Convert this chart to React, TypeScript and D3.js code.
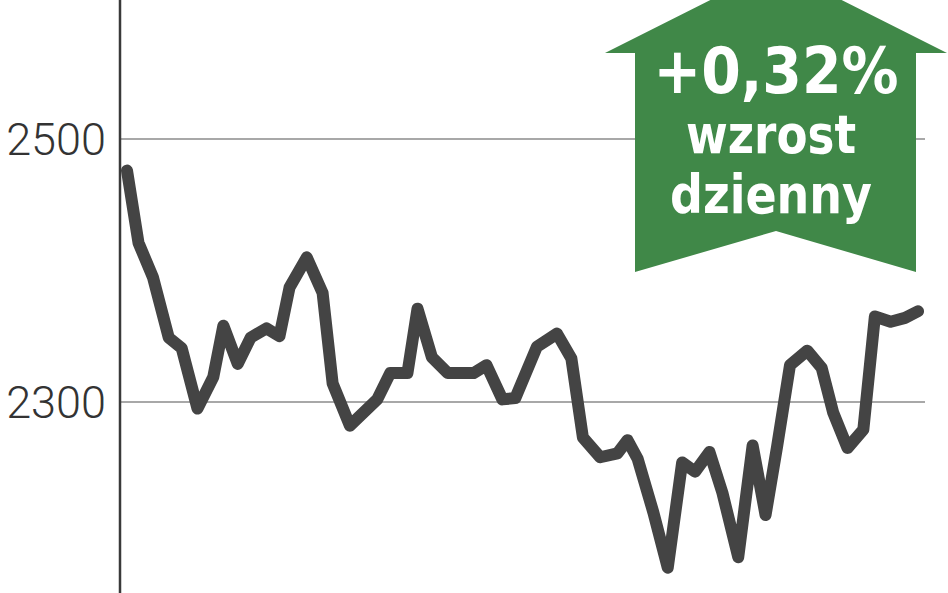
import { useEffect, useRef } from "react";
import * as d3 from "d3";

// session position (fractional trading-day index) and index level
const sessions = [
  0, 0.8, 1.8, 2.9, 3.8, 4.9, 6.0, 6.7, 7.7, 8.6, 9.7, 10.6, 11.3, 12.5, 13.6,
  14.3, 15.5, 17.4, 18.3, 19.5, 20.2, 21.2, 22.3, 24.1, 25.0, 26.1, 27.0, 28.5,
  29.9, 30.9, 31.7, 32.9, 34.1, 34.8, 35.5, 36.6, 37.6, 38.6, 39.5, 40.5, 41.4,
  42.5, 43.5, 44.4, 45.2, 46.1, 47.3, 48.3, 49.1, 50.1, 51.2, 52.0, 53.1, 54.1,
  55.0,
];
const values = [
  2476, 2421, 2395, 2349, 2341, 2295, 2319, 2358, 2329, 2349, 2356, 2350, 2387,
  2410, 2383, 2314, 2282, 2302, 2322, 2322, 2371, 2334, 2322, 2322, 2328, 2302,
  2303, 2342, 2352, 2333, 2273, 2258, 2261, 2271, 2257, 2216, 2174, 2254, 2247,
  2262, 2231, 2182, 2267, 2214, 2266, 2328, 2339, 2326, 2292, 2265, 2279, 2365,
  2361, 2364, 2369,
];
const yTicks = [2300, 2500];
const badgeLines = ["+0,32%", "wzrost", "dzienny"];

function App() {
  const svgRef = useRef<SVGSVGElement | null>(null);
  const width = 948;
  const height = 593;

  useEffect(() => {
    const svg = d3.select(svgRef.current);
    svg.selectAll("*").remove();

    const xScale = d3.scaleLinear().domain([0, 55]).range([127, 918]);
    const yScale = d3.scaleLinear().domain([2300, 2500]).range([402, 139]);
    const axisX = 120;

    // grid lines + labels
    yTicks.forEach((t) => {
      svg
        .append("line")
        .attr("x1", axisX)
        .attr("x2", 925)
        .attr("y1", yScale(t))
        .attr("y2", yScale(t))
        .attr("stroke", "#a8a8a8")
        .attr("stroke-width", 2);
      svg
        .append("text")
        .attr("x", 106)
        .attr("y", yScale(t))
        .attr("dy", "0.36em")
        .attr("text-anchor", "end")
        .attr("font-family", "Roboto, 'Liberation Sans', sans-serif")
        .attr("font-weight", 300)
        .attr("font-size", 45)
        .attr("fill", "#333")
        .text(t);
    });

    // vertical axis
    svg
      .append("line")
      .attr("x1", axisX)
      .attr("x2", axisX)
      .attr("y1", 0)
      .attr("y2", height)
      .attr("stroke", "#3a3a3a")
      .attr("stroke-width", 2.5);

    // index line
    const line = d3
      .line<number>()
      .x((_, i) => xScale(sessions[i]))
      .y((d) => yScale(d));
    svg
      .append("path")
      .attr("d", line(values) as string)
      .attr("fill", "none")
      .attr("stroke", "#444444")
      .attr("stroke-width", 12)
      .attr("stroke-linejoin", "round")
      .attr("stroke-linecap", "round");

    // green up-arrow badge
    const cx = 776;
    const arrow = [
      [cx, -33],
      [947, 53],
      [916, 53],
      [916, 272],
      [cx, 231],
      [635, 272],
      [635, 53],
      [605, 53],
    ];
    svg
      .append("polygon")
      .attr("points", arrow.map((p) => p.join(",")).join(" "))
      .attr("fill", "#408848");

    const textSpec = [
      { y: 93, size: 64, len: 245 },
      { y: 153, size: 53, len: 170 },
      { y: 213, size: 53, len: 202 },
    ];
    badgeLines.forEach((s, i) => {
      svg
        .append("text")
        .attr("x", cx + (i === 0 ? 0 : -5))
        .attr("y", textSpec[i].y)
        .attr("text-anchor", "middle")
        .attr("font-family", "'DejaVu Sans Condensed', 'DejaVu Sans', sans-serif")
        .attr("font-weight", "bold")
        .attr("font-size", textSpec[i].size)
        .attr("textLength", textSpec[i].len)
        .attr("lengthAdjust", "spacingAndGlyphs")
        .attr("fill", "#ffffff")
        .text(s);
    });
  }, []);

  return (
    <svg
      ref={svgRef}
      width={width}
      height={height}
      style={{ position: "absolute", left: 0, top: 0, background: "#fff" }}
    ></svg>
  );
}

export default App;
